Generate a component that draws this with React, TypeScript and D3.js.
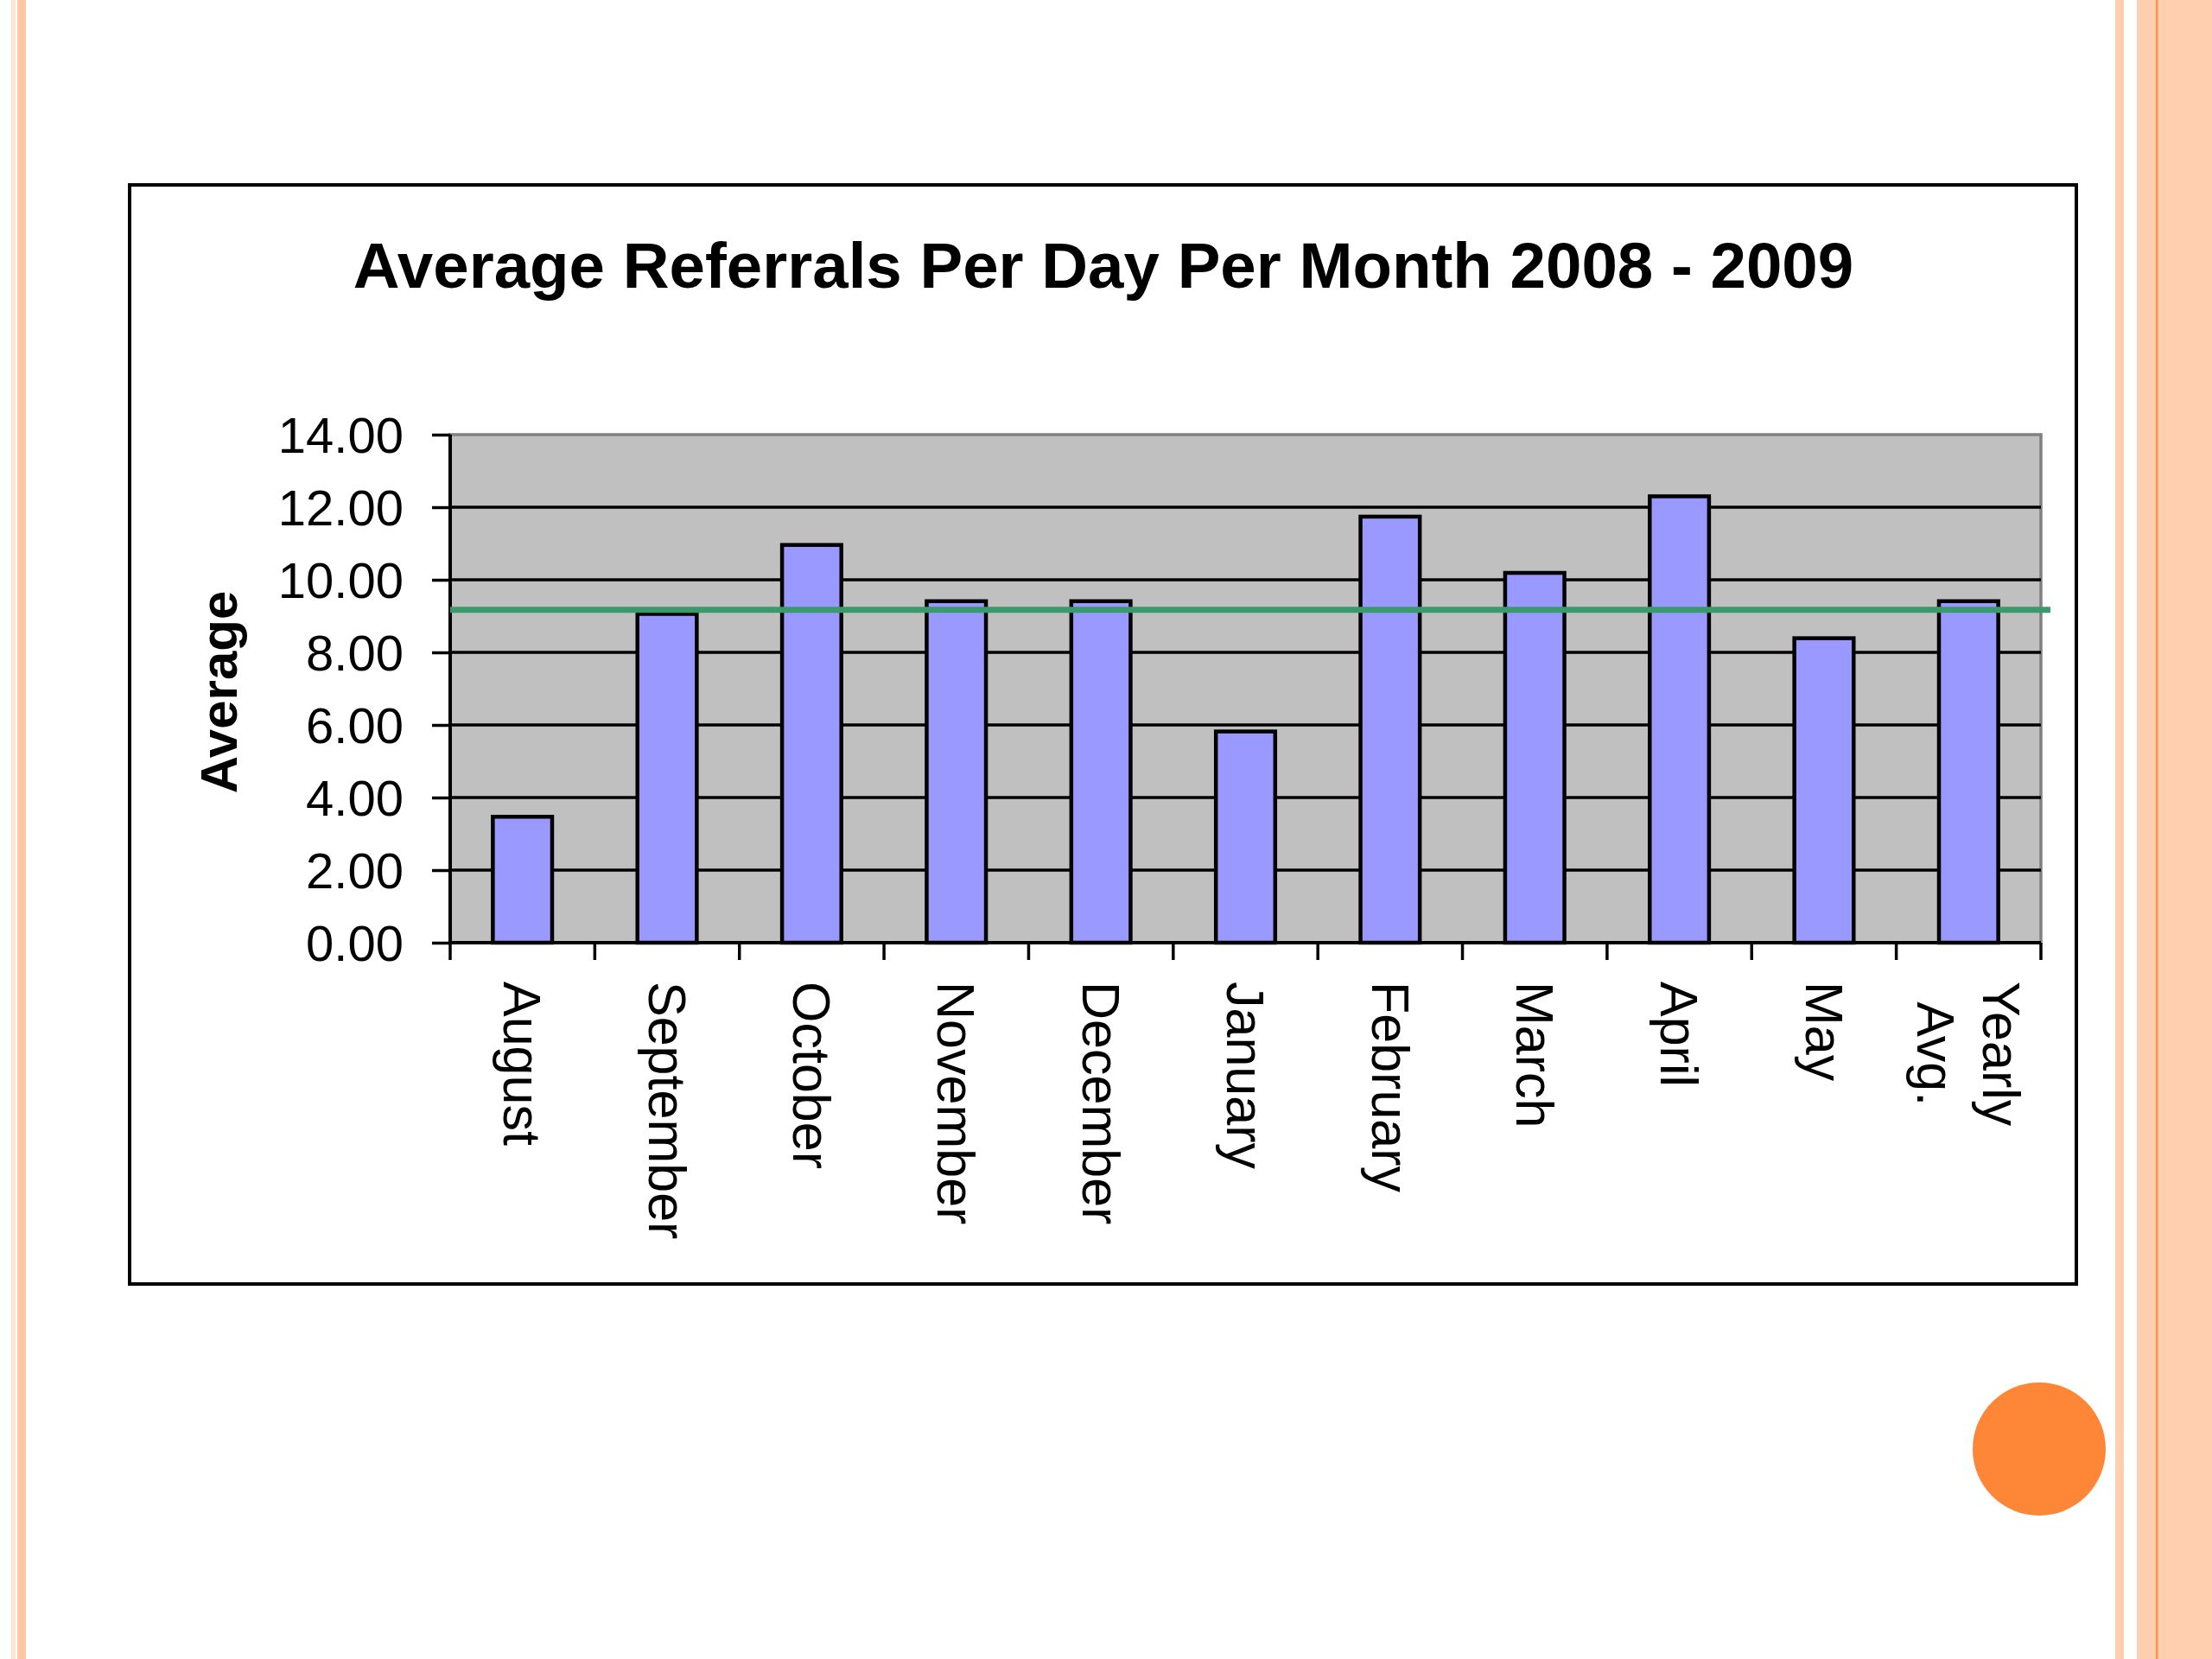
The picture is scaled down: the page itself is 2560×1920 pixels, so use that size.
import { useEffect, useRef } from "react";
import * as d3 from "d3";

const months = [
  "August",
  "September",
  "October",
  "November",
  "December",
  "January",
  "February",
  "March",
  "April",
  "May",
  "Yearly Avg.",
];
const referrals = [3.47, 9.06, 10.96, 9.41, 9.41, 5.82, 11.74, 10.19, 12.3, 8.39, 9.41];
const yearlyAverage = 9.17;
const yTicks = [0, 2, 4, 6, 8, 10, 12, 14];

const title = "Average Referrals Per Day Per Month 2008 - 2009";
const yTitle = "Average";

const W = 2560;
const H = 1920;
const FONT = "'Liberation Sans', Arial, sans-serif";

export default function App() {
  const ref = useRef<SVGSVGElement | null>(null);

  useEffect(() => {
    if (!ref.current) return;
    const svg = d3.select(ref.current);
    svg.selectAll("*").remove();

    svg.append("rect").attr("width", W).attr("height", H).attr("fill", "#ffffff");

    // slide theme stripes on both edges
    const stripes: [number, number, number][] = [
      [13, 18, 0.22],
      [20, 30, 0.45],
      [2448, 2458, 0.4],
      [2473, 2560, 0.4],
      [2495, 2497.5, 0.85],
    ];
    svg
      .selectAll("rect.stripe")
      .data(stripes)
      .join("rect")
      .attr("class", "stripe")
      .attr("x", (d) => d[0])
      .attr("width", (d) => d[1] - d[0])
      .attr("y", 0)
      .attr("height", H)
      .attr("fill", "#FE8637")
      .attr("opacity", (d) => d[2]);

    svg
      .append("circle")
      .attr("cx", 2360)
      .attr("cy", 1677)
      .attr("r", 77)
      .attr("fill", "#FE8637");

    // chart frame
    svg
      .append("rect")
      .attr("x", 150)
      .attr("y", 214)
      .attr("width", 2253)
      .attr("height", 1272)
      .attr("fill", "#ffffff")
      .attr("stroke", "#000000")
      .attr("stroke-width", 4);

    svg
      .append("text")
      .attr("x", 1277)
      .attr("y", 333)
      .attr("text-anchor", "middle")
      .attr("font-family", FONT)
      .attr("font-weight", "bold")
      .attr("font-size", 74.5)
      .attr("fill", "#000")
      .text(title);

    const left = 521;
    const right = 2362;
    const top = 503;
    const bottom = 1091;

    const x = d3
      .scaleBand<string>()
      .domain(months)
      .range([left, right])
      .paddingInner(0.59)
      .paddingOuter(0.295);

    const y = d3.scaleLinear().domain([0, 14]).range([bottom, top]);

    // plot area
    svg
      .append("rect")
      .attr("x", left)
      .attr("y", top)
      .attr("width", right - left)
      .attr("height", bottom - top)
      .attr("fill", "#C0C0C0")
      .attr("stroke", "#808080")
      .attr("stroke-width", 3.5);

    svg
      .append("g")
      .selectAll("line")
      .data(yTicks.filter((t) => t > 0 && t < 14))
      .join("line")
      .attr("x1", left)
      .attr("x2", right)
      .attr("y1", (d) => y(d))
      .attr("y2", (d) => y(d))
      .attr("stroke", "#000")
      .attr("stroke-width", 3.5);

    // bars
    svg
      .append("g")
      .selectAll("rect")
      .data(referrals)
      .join("rect")
      .attr("x", (_, i) => x(months[i])!)
      .attr("width", x.bandwidth())
      .attr("y", (d) => y(d))
      .attr("height", (d) => y(0) - y(d))
      .attr("fill", "#9999FF")
      .attr("stroke", "#000")
      .attr("stroke-width", 4.5);

    // y axis
    const yAxis = svg
      .append("g")
      .attr("transform", `translate(${left},0)`)
      .call(d3.axisLeft(y).tickValues(yTicks).tickSize(21).tickPadding(33).tickFormat(d3.format(".2f")));
    yAxis.select(".domain").attr("stroke", "#000").attr("stroke-width", 4).attr("d", `M0,${top}V${bottom}`);
    yAxis.selectAll(".tick line").attr("stroke", "#000").attr("stroke-width", 3.5);
    yAxis
      .selectAll(".tick text")
      .attr("font-family", FONT)
      .attr("font-size", 58)
      .attr("fill", "#000")
      .attr("dy", "0.35em");

    // x axis: ticks between categories
    const boundaries = months.map((m) => x(m)! - (x.step() * x.paddingInner()) / 2);
    boundaries.push(right);
    const xAxis = svg.append("g");
    xAxis
      .append("line")
      .attr("x1", left)
      .attr("x2", right)
      .attr("y1", bottom)
      .attr("y2", bottom)
      .attr("stroke", "#000")
      .attr("stroke-width", 4);
    xAxis
      .selectAll("line.tick")
      .data(boundaries)
      .join("line")
      .attr("class", "tick")
      .attr("x1", (d) => d)
      .attr("x2", (d) => d)
      .attr("y1", bottom)
      .attr("y2", bottom + 20)
      .attr("stroke", "#000")
      .attr("stroke-width", 3.5);

    // rotated category labels
    const labelTop = 1136;
    const lineGap = 76;
    months.forEach((m) => {
      const lines = m.split(" ");
      const cx = x(m)! + x.bandwidth() / 2;
      const g = xAxis
        .append("g")
        .attr("transform", `translate(${cx},${labelTop}) rotate(90)`);
      const texts = lines.map((ln, k) =>
        g
          .append("text")
          .attr("font-family", FONT)
          .attr("font-size", 61)
          .attr("fill", "#000")
          .attr("y", (k - (lines.length - 1) / 2) * lineGap)
          .attr("dy", "0.35em")
          .text(ln)
      );
      const maxLen = d3.max(texts, (t) => (t.node() as SVGTextElement).getComputedTextLength()) ?? 0;
      texts.forEach((t) => t.attr("text-anchor", "middle").attr("x", maxLen / 2));
    });

    // yearly average line
    svg
      .append("line")
      .attr("x1", left)
      .attr("x2", right + 11)
      .attr("y1", y(yearlyAverage))
      .attr("y2", y(yearlyAverage))
      .attr("stroke", "#3A9A6C")
      .attr("stroke-width", 7);

    svg
      .append("text")
      .attr("transform", `translate(253,801) rotate(-90)`)
      .attr("text-anchor", "middle")
      .attr("dy", "0.35em")
      .attr("font-family", FONT)
      .attr("font-weight", "bold")
      .attr("font-size", 60)
      .attr("fill", "#000")
      .text(yTitle);
  }, []);

  return (
    <svg
      ref={ref}
      width={W}
      height={H}
      style={{ position: "absolute", left: 0, top: 0, display: "block" }}
    />
  );
}
